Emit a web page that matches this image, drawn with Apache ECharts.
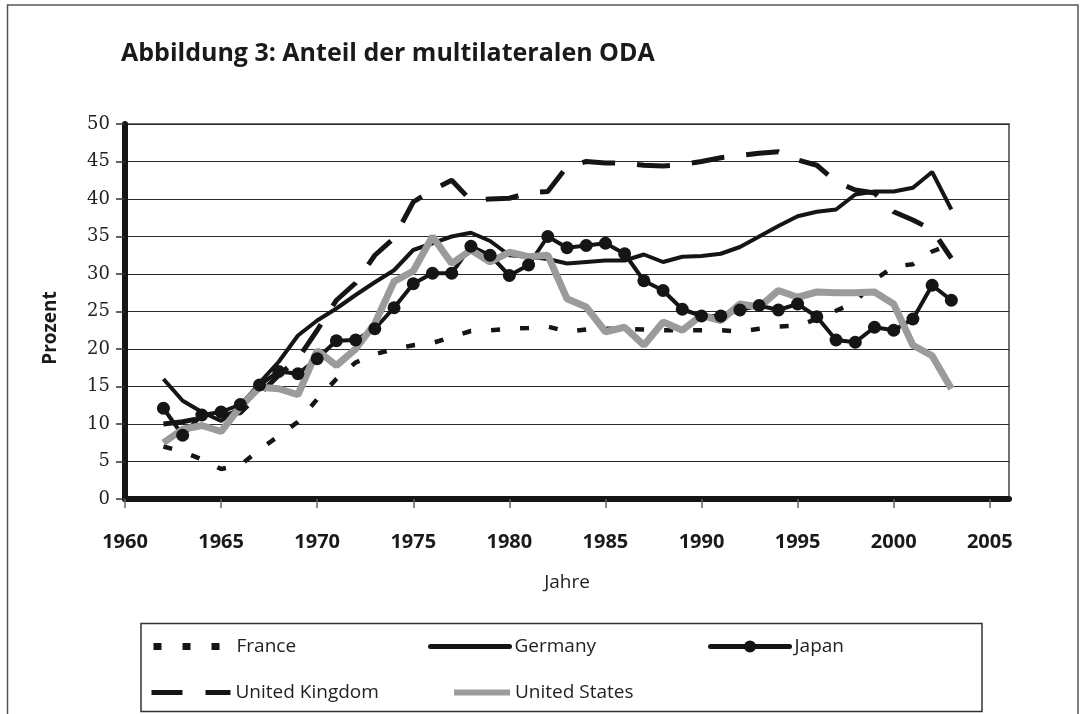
<!DOCTYPE html>
<html>
<head>
<meta charset="utf-8">
<script src="https://cdn.jsdelivr.net/npm/echarts@6/dist/echarts.min.js"></script>
<style>
  html, body { margin: 0; padding: 0; background: #fff; }
  #chart { width: 1080px; height: 714px; }
</style>
</head>
<body>
<div id="chart"></div>
<script>
var years = [1962, 1963, 1964, 1965, 1966, 1967, 1968, 1969, 1970, 1971,
  1972, 1973, 1974, 1975, 1976, 1977, 1978, 1979, 1980, 1981,
  1982, 1983, 1984, 1985, 1986, 1987, 1988, 1989, 1990, 1991,
  1992, 1993, 1994, 1995, 1996, 1997, 1998, 1999, 2000, 2001,
  2002, 2003];

var france = [7.0, 6.3, 5.3, 4.0, 4.5, 6.6, 8.4, 10.3, 13.3, 16.0,
  18.2, 19.3, 20.0, 20.5, 20.8, 21.6, 22.4, 22.5, 22.7, 22.8,
  23.0, 22.3, 22.6, 22.7, 22.7, 22.6, 22.5, 22.5, 22.5, 22.5,
  22.3, 22.7, 23.0, 23.1, 24.0, 25.1, 26.2, 29.2, 31.0, 31.3,
  33.0, 34.0];

var germany = [16.0, 13.1, 11.6, 10.4, 12.3, 15.5, 18.3, 21.8, 23.8, 25.4,
  27.2, 28.9, 30.5, 33.2, 34.1, 35.0, 35.5, 34.4, 32.5, 32.3,
  32.0, 31.4, 31.6, 31.8, 31.8, 32.6, 31.6, 32.3, 32.4, 32.7,
  33.6, 35.0, 36.4, 37.7, 38.3, 38.6, 40.6, 41.0, 41.0, 41.5,
  43.6, 38.6];

var japan = [12.1, 8.5, 11.2, 11.6, 12.6, 15.2, 17.0, 16.7, 18.7, 21.1,
  21.2, 22.7, 25.5, 28.7, 30.1, 30.1, 33.7, 32.5, 29.8, 31.2,
  35.0, 33.5, 33.8, 34.1, 32.7, 29.1, 27.8, 25.3, 24.4, 24.4,
  25.2, 25.8, 25.2, 26.0, 24.3, 21.2, 20.9, 22.9, 22.5, 24.0,
  28.5, 26.5];

var uk = [10.0, 10.3, 10.8, 11.2, 11.5, 14.0, 16.5, 18.7, 22.5, 26.5,
  28.8, 32.5, 34.8, 39.6, 41.2, 42.5, 39.8, 40.0, 40.1, 40.8,
  41.0, 44.3, 45.0, 44.8, 44.8, 44.5, 44.4, 44.6, 45.0, 45.5,
  45.8, 46.1, 46.3, 45.2, 44.5, 42.3, 41.2, 40.8, 38.3, 37.2,
  35.9, 32.1];

var us = [7.5, 9.3, 9.8, 9.0, 12.3, 14.9, 14.7, 13.9, 19.8, 17.8,
  20.0, 23.4, 29.0, 30.4, 35.0, 31.4, 33.2, 31.6, 32.9, 32.3,
  32.5, 26.7, 25.6, 22.3, 22.9, 20.5, 23.6, 22.5, 24.5, 23.8,
  26.0, 25.6, 27.8, 26.9, 27.6, 27.5, 27.5, 27.6, 26.0, 20.5,
  19.1, 14.7];

var xTicks = [1960, 1965, 1970, 1975, 1980, 1985, 1990, 1995, 2000, 2005];

function pairs(vals) {
  return years.map(function (y, i) { return [y, vals[i]]; });
}

var ink = "#151515";

function legendItem(name, left, top, width, lineStyle, showDot) {
  return {
    data: [name],
    left: left,
    top: top,
    padding: 0,
    itemWidth: width,
    itemHeight: 15,
    selectedMode: false,
    lineStyle: lineStyle,
    itemStyle: showDot ? {} : { opacity: 0 },
    textStyle: { fontFamily: "Open Sans", fontSize: 19, color: "#222" },
  };
}

var chart = echarts.init(document.getElementById("chart"));

var options = {
  animation: false,
  backgroundColor: "#fff",
  title: {
    text: "Abbildung 3: Anteil der multilateralen ODA",
    left: 121,
    top: 41,
    padding: 0,
    textStyle: {
      fontFamily: "Open Sans",
      fontWeight: "bold",
      fontSize: 25,
      color: "#1a1a1a",
    },
  },
  grid: {
    left: 125,
    right: 71,
    top: 124,
    bottom: 215,
    show: true,
    borderColor: "#707070",
    borderWidth: 2,
  },
  xAxis: {
    type: "value",
    min: 1960,
    max: 2006,
    interval: 5,
    name: "Jahre",
    nameLocation: "middle",
    nameGap: 74,
    nameTextStyle: { fontFamily: "Open Sans", fontSize: 19, color: "#222" },
    axisLine: { show: true, lineStyle: { color: ink, width: 6 } },
    axisTick: {
      show: true,
      length: 9,
      customValues: xTicks,
      lineStyle: { color: "#666", width: 1.5 },
    },
    axisLabel: {
      customValues: xTicks,
      formatter: function (v) { return String(v); },
      margin: 33,
      fontFamily: "Open Sans",
      fontWeight: "bold",
      fontSize: 20,
      color: "#1a1a1a",
    },
    splitLine: { show: false },
  },
  yAxis: {
    type: "value",
    min: 0,
    max: 50,
    interval: 5,
    axisLine: { show: true, lineStyle: { color: ink, width: 6 } },
    axisTick: { show: true, length: 9, lineStyle: { color: "#333", width: 1.5 } },
    axisLabel: {
      margin: 15,
      fontFamily: "DejaVu Serif",
      fontSize: 18,
      color: "#222",
    },
    splitLine: { show: true, lineStyle: { color: "#2a2a2a", width: 1 } },
  },
  legend: [
    legendItem("France", 150, 637, 78, { width: 7, type: [8, 21], cap: "butt" }, false),
    legendItem("Germany", 428, 637, 79, { width: 5, type: "solid", cap: "round" }, false),
    legendItem("Japan", 708, 637, 79, { width: 5, type: "solid", cap: "round" }, true),
    legendItem("United Kingdom", 149, 683, 79, { width: 5, type: [31, 23], cap: "butt" }, false),
    legendItem("United States", 451, 683, 56, { width: 6, type: "solid", cap: "butt" }, false),
  ],
  graphic: [
    {
      type: "rect",
      shape: { x: 7.5, y: 5, width: 1070.5, height: 720 },
      style: { fill: "none", stroke: "#555", lineWidth: 1.5 },
      silent: true,
    },
    {
      type: "rect",
      shape: { x: 141, y: 623.5, width: 841, height: 88 },
      style: { fill: "none", stroke: "#333", lineWidth: 1.5 },
      silent: true,
    },
    {
      type: "text",
      x: 51,
      y: 328,
      rotation: Math.PI / 2,
      style: {
        text: "Prozent",
        fontFamily: "Open Sans",
        fontWeight: "bold",
        fontSize: 19,
        fill: "#1a1a1a",
        align: "center",
        verticalAlign: "middle",
      },
      silent: true,
    },
  ],
  series: [
    {
      name: "France",
      type: "line",
      data: pairs(france),
      symbol: "none",
      lineStyle: { color: ink, width: 4.5, type: [9, 20], cap: "butt" },
      itemStyle: { color: ink },
    },
    {
      name: "Germany",
      type: "line",
      data: pairs(germany),
      symbol: "none",
      lineStyle: { color: ink, width: 4 },
      itemStyle: { color: ink },
    },
    {
      name: "Japan",
      type: "line",
      data: pairs(japan),
      symbol: "circle",
      symbolSize: 13,
      lineStyle: { color: ink, width: 4 },
      itemStyle: { color: ink },
    },
    {
      name: "United Kingdom",
      type: "line",
      data: pairs(uk),
      symbol: "none",
      lineStyle: { color: ink, width: 5, type: [33, 22], cap: "butt" },
      itemStyle: { color: ink },
    },
    {
      name: "United States",
      type: "line",
      data: pairs(us),
      symbol: "none",
      lineStyle: { color: "#9b9b9b", width: 7 },
      itemStyle: { color: "#9b9b9b" },
    },
  ],
};

chart.setOption(options, true);
</script>
</body>
</html>
